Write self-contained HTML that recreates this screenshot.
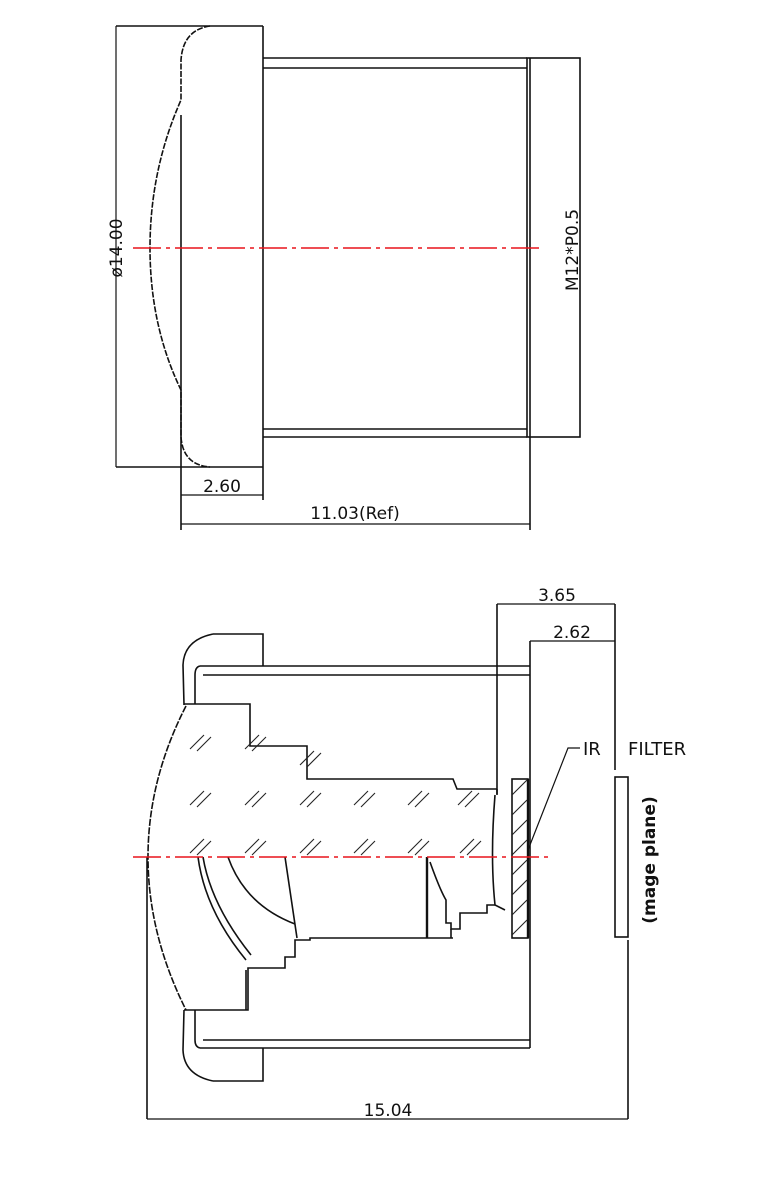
<!DOCTYPE html>
<html><head><meta charset="utf-8"><style>
html,body{margin:0;padding:0;background:#fff}
svg{display:block}
text{font-family:"DejaVu Sans","Liberation Sans",sans-serif;fill:#111}
</style></head><body>
<svg width="780" height="1194" viewBox="0 0 780 1194" xmlns="http://www.w3.org/2000/svg">
<defs>
<g id="h" stroke="#222" stroke-width="1.1">
<line x1="0" y1="10" x2="14" y2="-4"/><line x1="7" y1="12" x2="21" y2="-2"/>
</g>
</defs>
<g fill="none" stroke="#111" stroke-width="1.6">
<!-- TOP VIEW -->
<line x1="116" y1="26" x2="263" y2="26"/>
<line x1="116" y1="467" x2="263" y2="467"/>
<line x1="116" y1="26" x2="116" y2="467" stroke-width="1.2"/>
<line x1="263" y1="26" x2="263" y2="467"/>
<path d="M210,26 Q183,30 181,60 L181,100 Q150,170 150,248 Q150,326 181,390 L181,437 Q183,465 210,467" stroke-dasharray="6,1.5"/>
<line x1="181" y1="115" x2="181" y2="530"/>
<line x1="263" y1="58" x2="527" y2="58"/>
<line x1="263" y1="68" x2="527" y2="68"/>
<line x1="263" y1="429" x2="527" y2="429"/>
<line x1="263" y1="437" x2="527" y2="437"/>
<rect x="527" y="58" width="53" height="379"/>
<line x1="530" y1="58" x2="530" y2="437"/>
<line x1="530" y1="437" x2="530" y2="530"/>
<line x1="263" y1="467" x2="263" y2="500"/>
<line x1="181" y1="495" x2="263" y2="495" stroke-width="1.2"/>
<line x1="181" y1="524" x2="530" y2="524" stroke-width="1.2"/>

<!-- BOTTOM VIEW -->
<path d="M213,634 L263,634 L263,666"/>
<path d="M213,634 Q184,640 183,665 L184,705"/>
<path d="M213,1081 L263,1081 L263,1048"/>
<path d="M213,1081 Q184,1075 183,1050 L184,1010"/>
<path d="M200,666 L530,666"/>
<path d="M203,675 L530,675"/>
<path d="M200,666 Q195,667 195,675 L195,704"/>
<path d="M200,1048 L530,1048"/>
<path d="M203,1040 L530,1040"/>
<path d="M200,1048 Q195,1047 195,1040 L195,1010"/>
<path d="M186,706 Q148,780 148,857 Q148,934 186,1010" stroke-dasharray="7,1.5"/>
<path d="M184,704 L250,704 L250,746 L307,746 L307,779 L453,779 L457,789 L497,789"/>
<path d="M184,1010 L248,1010 L248,968 L285,968 L285,957 L295,957 L295,940 L310,940 L310,938 L453,938"/>
<path d="M246,970 L246,1010"/>
<path d="M198,857 Q205,910 246,960"/>
<path d="M203,857 Q211,905 251,955"/>
<path d="M228,857 Q245,905 295,924"/>
<path d="M285,857 L297,938"/>
<path d="M427,857 L427,938" stroke-width="2.4"/>
<path d="M430,862 Q440,890 446,900 L446,923 L451,923 L451,929 L460,929 L460,913 L487,913 L487,905 L495,905"/>
<path d="M451,929 L451,938"/>
<path d="M497,789 L497,794"/>
<path d="M495,795 Q490,857 495,905 L505,910"/>
<line x1="497" y1="604" x2="497" y2="795"/>
<line x1="497" y1="604" x2="615" y2="604" stroke-width="1.2"/>
<line x1="530" y1="641" x2="615" y2="641" stroke-width="1.2"/>
<line x1="530" y1="641" x2="530" y2="1048"/>
<line x1="615" y1="604" x2="615" y2="770"/>
<rect x="512" y="779" width="16" height="159"/>
<line x1="528" y1="779" x2="528" y2="938" stroke-width="2.4"/>
<rect x="615" y="777" width="13" height="160"/>
<line x1="628" y1="940" x2="628" y2="1119"/>
<line x1="147" y1="857" x2="147" y2="1119"/>
<line x1="147" y1="1119" x2="628" y2="1119" stroke-width="1.2"/>
<path d="M528,850 L568,748 L580,748" stroke-width="1.2"/>
</g>
<use href="#h" x="190" y="739"/><use href="#h" x="245" y="739"/><use href="#h" x="300" y="755"/>
<use href="#h" x="190" y="795"/><use href="#h" x="245" y="795"/><use href="#h" x="300" y="795"/><use href="#h" x="354" y="795"/><use href="#h" x="408" y="795"/><use href="#h" x="458" y="795"/>
<use href="#h" x="190" y="843"/><use href="#h" x="245" y="843"/><use href="#h" x="300" y="843"/><use href="#h" x="354" y="843"/><use href="#h" x="408" y="843"/><use href="#h" x="460" y="843"/>
<g stroke="#222" stroke-width="1.1">
<line x1="512" y1="795" x2="527" y2="780"/><line x1="512" y1="815" x2="527" y2="800"/><line x1="512" y1="835" x2="527" y2="820"/><line x1="512" y1="855" x2="527" y2="840"/><line x1="512" y1="875" x2="527" y2="860"/><line x1="512" y1="895" x2="527" y2="880"/><line x1="512" y1="915" x2="527" y2="900"/><line x1="512" y1="935" x2="527" y2="920"/>
</g>
<g stroke="#e8141c" stroke-width="1.6" stroke-dasharray="28,5,4,5">
<line x1="133" y1="248" x2="542" y2="248"/>
<line x1="133" y1="857" x2="552" y2="857"/>
</g>
<text x="122" y="248" font-size="17" text-anchor="middle" transform="rotate(-90 122 248)">ø14.00</text>
<text x="578" y="250" font-size="17" text-anchor="middle" transform="rotate(-90 578 250)">M12*P0.5</text>
<text x="222" y="492" font-size="17" text-anchor="middle">2.60</text>
<text x="355" y="519" font-size="17" text-anchor="middle">11.03(Ref)</text>
<text x="557" y="601" font-size="17" text-anchor="middle">3.65</text>
<text x="572" y="638" font-size="17" text-anchor="middle">2.62</text>
<text x="583" y="755" font-size="18">IR</text>
<text x="628" y="755" font-size="18">FILTER</text>
<text x="388" y="1116" font-size="17" text-anchor="middle">15.04</text>
<text x="655" y="860" font-size="17" text-anchor="middle" transform="rotate(-90 655 860)" font-weight="bold">(mage plane)</text>
</svg>
</body></html>
